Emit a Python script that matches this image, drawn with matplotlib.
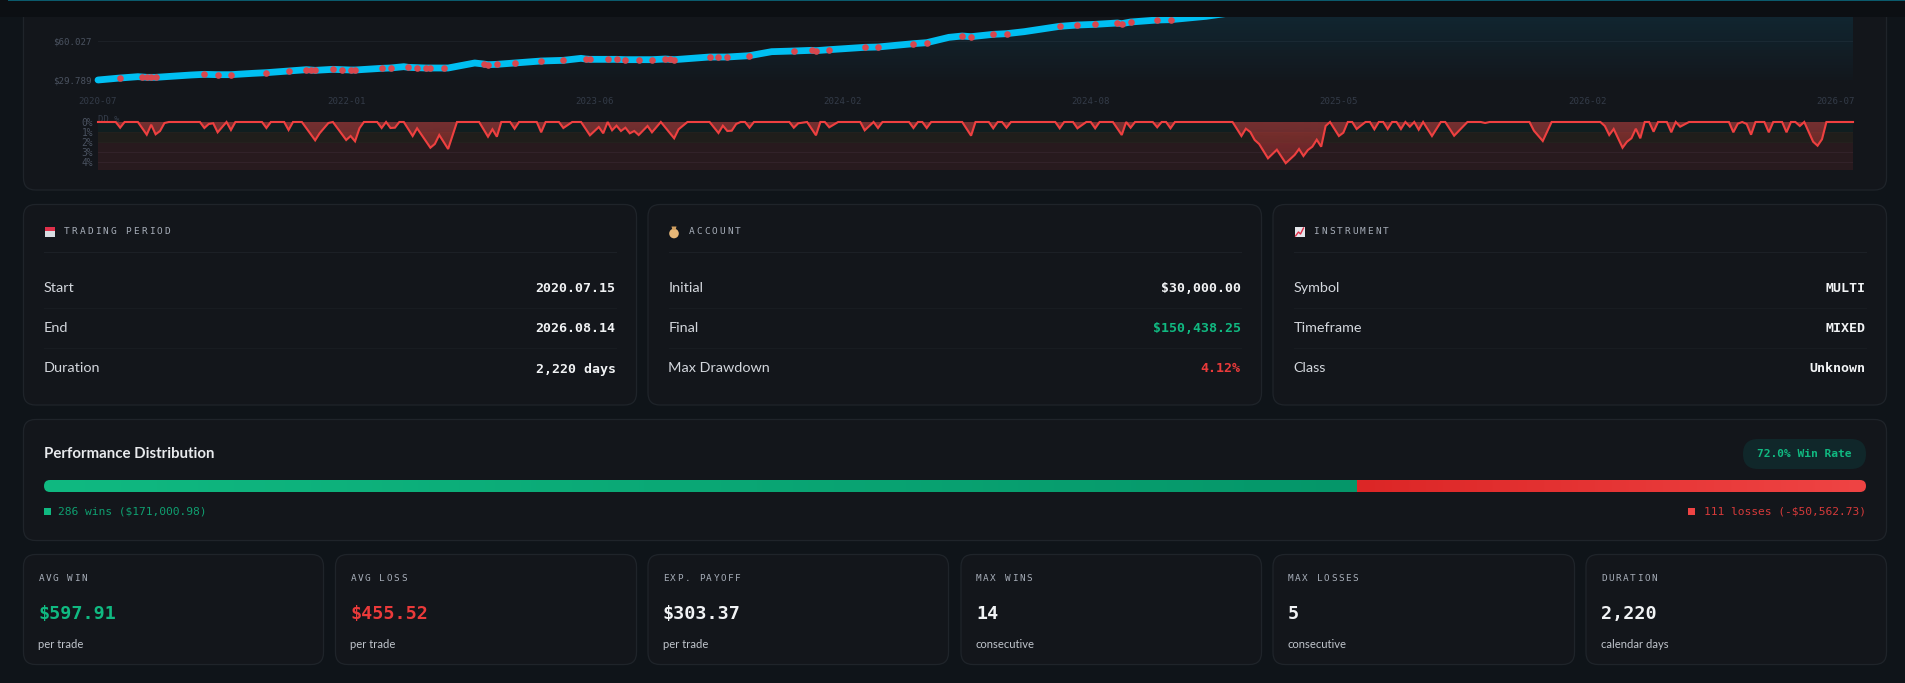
import matplotlib
matplotlib.use('Agg')
import matplotlib.pyplot as plt
import numpy as np
from matplotlib.colors import to_rgb
from matplotlib.patches import FancyBboxPatch, Rectangle, Circle, Polygon
from matplotlib.text import Text

# equity curve (trade index, balance)
equity_idx = [0, 5, 9, 10, 11, 12, 13, 21, 24, 27, 30, 35, 38, 43, 47, 48, 49, 53, 55, 57, 58, 64, 66, 69, 70,
              72, 74, 75, 78, 79, 85, 87, 88, 90, 94, 100, 105, 109, 110, 111, 115, 117, 119, 122, 125, 128, 129,
              130, 138, 140, 142, 147, 152, 157, 161, 162, 165, 173, 176, 184, 187, 192, 195, 197, 202, 205, 209,
              217, 221, 225, 230, 231, 233, 239, 242, 250, 396]
equity_val = [29789, 31340, 32373, 32115, 31856, 31856, 31856, 33665, 34182, 33923, 33923, 34957, 35474, 36766,
              37799, 37541, 37282, 38058, 37799, 37541, 37541, 38833, 39091, 40125, 39608, 39350, 39091, 39091,
              39091, 39091, 42967, 42192, 41675, 41934, 42967, 44518, 45034, 46585, 46068, 45809, 45809, 45809,
              45551, 45551, 45551, 46068, 45809, 45551, 47619, 47619, 47619, 48652, 51753, 52270, 52787, 52528,
              53304, 55112, 55371, 57955, 58730, 62865, 63899, 63382, 65190, 65707, 67258, 71393, 72426, 72943,
              73977, 73460, 74752, 76302, 76561, 79145, 150438]
loss_idx = [5, 10, 11, 12, 13, 24, 27, 30, 38, 43, 47, 48, 49, 53, 55, 57, 58, 64, 66, 70, 72, 74, 75, 78, 87, 88,
            90, 94, 100, 105, 110, 111, 115, 117, 119, 122, 125, 128, 129, 130, 138, 140, 142, 147, 157, 161, 162,
            165, 173, 176, 184, 187, 195, 197, 202, 205, 217, 221, 225, 230, 231, 233, 239, 242]

# drawdown (trade index, percent)
dd_idx = [0, 4, 5, 6, 9, 11, 12, 13, 14, 15, 16, 23, 24, 25, 26, 27, 29, 30, 31, 37, 38, 39, 42, 43, 44, 46, 49, 50,
          52, 53, 56, 57, 58, 59, 60, 63, 64, 65, 66, 67, 68, 69, 71, 72, 75, 76, 77, 79, 81, 86, 88, 89, 90, 91, 93,
          94, 95, 99, 100, 101, 104, 105, 107, 109, 111, 113, 114, 115, 116, 117, 118, 119, 120, 121, 122, 124, 125,
          127, 130, 131, 133, 138, 140, 141, 142, 143, 144, 145, 146, 147, 148, 156, 157, 158, 160, 162, 163, 164,
          165, 167, 172, 173, 175, 176, 177, 183, 184, 185, 186, 187, 188, 195, 197, 198, 201, 202, 203, 204, 205,
          206, 216, 217, 218, 220, 221, 223, 224, 225, 226, 229, 231, 232, 233, 234, 238, 239, 240, 241, 242, 243,
          256, 258, 259, 260, 261, 262, 264, 266, 268, 270, 271, 272, 273, 274, 275, 276, 277, 278, 280, 281, 282,
          283, 284, 286, 287, 288, 289, 290, 291, 292, 293, 294, 295, 296, 297, 298, 299, 301, 303, 304, 306, 309,
          312, 313, 314, 323, 324, 326, 328, 339, 340, 341, 342, 344, 345, 346, 347, 348, 349, 350, 351, 352, 354,
          355, 356, 357, 359, 368, 369, 370, 371, 372, 373, 374, 376, 377, 378, 380, 381, 382, 383, 384, 385, 387,
          388, 389, 390, 396]
dd_val = [0, 0, .57, 0, 0, 1.27, .27, 1.23, .9, .1, 0, 0, .6, .2, .13, 1.03, 0, .8, 0, 0, .6, 0, 0, .8, 0, 0, 1.83,
          1.13, .1, 0, 1.8, 1.4, 1.93, .63, 0, 0, .6, 0, .6, .57, 0, 0, 1.4, .63, 2.57, 2.2, 1.3, 2.7, 0, 0, 1.47,
          .73, 1.47, 0, 0, .67, 0, 0, 1.03, 0, 0, .6, 0, 0, 1.33, .5, 1.13, 0, .83, .37, .9, .57, 1.13, .9, 1.3, .4,
          1.03, 0, 1.63, .73, 0, 0, 1.1, .37, .9, .87, .2, 0, 0, .57, 0, 0, .57, .13, 0, 1.33, 0, 0, .53, 0, 0, .83,
          0, .6, 0, 0, .6, 0, 0, .6, 0, 0, 1.37, 0, 0, .63, 0, 0, .57, 0, 0, .63, 0, 0, .63, 0, 0, .63, 0, 0, 1.3, 0,
          .57, 0, 0, .53, 0, 0, .63, 0, 0, 1.4, .67, 1.0, 1.8, 2.2, 3.63, 2.77, 4.12, 3.3, 2.7, 3.4, 2.8, 2.47, 1.77,
          2.47, .4, 0, 1.4, 1.07, 0, 0, .7, 0, 0, .73, 0, 0, .7, 0, 0, .7, 0, .47, 0, .77, 0, 1.4, 0, 0, 1.37, 0, 0,
          .1, 0, 0, .87, 1.9, 0, 0, .4, 1.3, .7, 2.57, 1.97, 1.63, .67, 1.63, 0, 0, .97, 0, 0, 1.03, 0, .47, 0, 0,
          1.03, .17, 0, .2, 1.27, 0, 0, 1.03, 0, 0, 1.03, 0, 0, .4, 0, 1.97, 2.37, 1.73, 0, 0]

date_idx = [0, 56, 112, 168, 224, 280, 336, 392]
date_labels = ['2020-07', '2022-01', '2023-06', '2024-02', '2024-08', '2025-05', '2026-02', '2026-07']
equity_ticks = [29789, 60027]
equity_tick_labels = ['$29.789', '$60.027']
dd_ticks = [0, 1, 2, 3, 4]
dd_tick_labels = ['0%', '1%', '2%', '3%', '4%']

period_rows = [('Start', '2020.07.15'), ('End', '2026.08.14'), ('Duration', '2,220 days')]
account_rows = [('Initial', '$30,000.00'), ('Final', '$150,438.25'), ('Max Drawdown', '4.12%')]
instrument_rows = [('Symbol', 'MULTI'), ('Timeframe', 'MIXED'), ('Class', 'Unknown')]

wins = 286
losses = 111
stat_labels = ['AVG WIN', 'AVG LOSS', 'EXP. PAYOFF', 'MAX WINS', 'MAX LOSSES', 'DURATION']
stat_values = ['$597.91', '$455.52', '$303.37', '14', '5', '2,220']
stat_subs = ['per trade', 'per trade', 'per trade', 'consecutive', 'consecutive', 'calendar days']

PAGE = '#0f1419'
CARD = '#13161b'
BORDER = '#1f242a'
DIVIDER = '#1c2026'
GREEN = '#10b981'
RED = '#ef4444'
WHITE = '#f1f3f5'
MONO = 'DejaVu Sans Mono'
SANS = 'Lato'
W, H = 1905, 683


class SpacedText(Text):
    # matplotlib has no letter-spacing, so draw the string one glyph at a time
    def __init__(self, x, y, text, step, **kw):
        super().__init__(x, y, text, **kw)
        self.step = step

    def draw(self, renderer):
        full, x0 = self.get_text(), self.get_position()[0]
        for i, ch in enumerate(full):
            self.set_text(ch)
            self.set_x(x0 + i * self.step)
            super().draw(renderer)
        self.set_text(full)
        self.set_x(x0)


def px(size):
    return size * 0.72


def card(ax, x0, y0, x1, y1, r=12):
    ax.add_patch(FancyBboxPatch((x0, y0), x1 - x0, y1 - y0, boxstyle=f'round,pad=0,rounding_size={r}',
                                fc=CARD, ec=BORDER, lw=0.9))


def spaced(ax, x, y, text, step, size=9.5):
    ax.add_artist(SpacedText(x, y, text, step, color='#a6adb8', fontsize=px(size), family=MONO,
                             va='baseline', ha='left'))


def h_gradient(c0, c1):
    return np.linspace(to_rgb(c0), to_rgb(c1), 256)[None, :, :]


def v_alpha(color, a_top, a_bottom):
    rgba = np.ones((256, 1, 4))
    rgba[:, :, :3] = to_rgb(color)
    rgba[:, 0, 3] = np.linspace(a_top, a_bottom, 256)
    return rgba


def info_card(ax, x0, x1, title, rows, colors):
    card(ax, x0, 204.5, x1, 405)
    left, right = x0 + 20.5, x1 - 21
    spaced(ax, left + 20, 234.5, title, 7.7)
    ax.plot([left, right], [252.3, 252.3], color=DIVIDER, lw=0.8)
    for yy in (307.5, 347.5):
        ax.plot([left, right], [yy, yy], color='#191d22', lw=0.7)
    for (name, value), yy, c in zip(rows, (292.5, 332.5, 372.5), colors):
        ax.text(left, yy, name, color='#d3d7dd', fontsize=px(14.4), family=SANS, va='baseline')
        ax.text(right, yy, value, color=c, fontsize=px(13.3), family=MONO, weight='bold', va='baseline',
                ha='right')
    return left


plt.rcParams['font.family'] = ['DejaVu Sans']
fig = plt.figure(figsize=(W / 100, H / 100), dpi=100, facecolor=PAGE)

bg = fig.add_axes([0, 0, 1, 1], zorder=0)
bg.set_xlim(0, W)
bg.set_ylim(H, 0)
bg.axis('off')

# chart card, its top is scrolled away under the header
card(bg, 23.5, -60, 1886.5, 190)

# equity axes
P_L, P_R = 98, 1853
ax = fig.add_axes([P_L / W, 1 - 80 / H, (P_R - P_L) / W, 63 / H], zorder=1)
ax.set_facecolor('none')
for s in ax.spines.values():
    s.set_visible(False)
eq_top = 29789 + 63 * 775.3
poly = ax.fill_between(equity_idx, equity_val, 29789, color='none')
im = ax.imshow(v_alpha('#00bfff', 0.095, 0.012), extent=[0, 396, 29789, eq_top], aspect='auto', zorder=1)
im.set_clip_path(poly.get_paths()[0], transform=ax.transData)
ax.plot(equity_idx, equity_val, color='#00bff2', lw=px(6.8), solid_capstyle='round', solid_joinstyle='round',
        clip_on=False, zorder=3)
loss_equity = [equity_val[equity_idx.index(i)] for i in loss_idx]
ax.scatter(loss_idx, loss_equity, s=px(6.6) ** 2, color='#d9474e', linewidths=0, clip_on=False, zorder=4)
ax.set_xlim(0, 396)
ax.set_ylim(29789, eq_top)
ax.set_xticks(date_idx, date_labels)
ax.set_yticks(equity_ticks, equity_tick_labels)
ax.grid(axis='y', color='#1c2026', lw=0.8, zorder=0)
ax.set_axisbelow(True)
ax.tick_params(axis='x', length=0, pad=12, labelsize=px(9.2), labelcolor='#333b48')
ax.tick_params(axis='y', length=0, pad=4.3, labelsize=px(9.2), labelcolor='#4a5260')
for t in ax.get_xticklabels() + ax.get_yticklabels():
    t.set_family(MONO)

# drawdown axes
dd = fig.add_axes([P_L / W, 1 - 170 / H, (P_R - P_L) / W, 48 / H], zorder=1)
dd.set_facecolor('none')
for s in dd.spines.values():
    s.set_visible(False)
dd.axhspan(0, 1, color='#101e20', lw=0, zorder=0)
dd.axhspan(1, 2, color='#201e1b', lw=0, zorder=0)
dd.axhspan(2, 4.8, color='#281a1e', lw=0, zorder=0)
for lvl in dd_ticks[1:]:
    dd.axhline(lvl, color='#33232a' if lvl > 2 else '#24221f', lw=0.7, zorder=0.5)
poly = dd.fill_between(dd_idx, dd_val, 0, color='none')
im = dd.imshow(v_alpha(RED, 0.46, 0.26), extent=[0, 396, 4.8, 0], aspect='auto', zorder=1)
im.set_clip_path(poly.get_paths()[0], transform=dd.transData)
dd.plot(dd_idx, dd_val, color='#ee4040', lw=px(2.1), clip_on=False, zorder=3, solid_joinstyle='miter')
dd.set_xlim(0, 396)
dd.set_ylim(4.8, 0)
dd.set_xticks([])
dd.set_yticks(dd_ticks, dd_tick_labels)
dd.tick_params(axis='y', length=0, pad=3.6, labelsize=px(9.6), labelcolor='#4a5260')
for t in dd.get_yticklabels():
    t.set_family(MONO)
bg.text(98, 119.5, 'DD %', color='#333b48', fontsize=px(9), family=MONO, va='center')

# info cards
l1 = info_card(bg, 23.5, 636.5, 'TRADING PERIOD', period_rows, [WHITE] * 3)
l2 = info_card(bg, 648, 1261.5, 'ACCOUNT', account_rows, [WHITE, GREEN, '#ea3a3a'])
l3 = info_card(bg, 1273, 1886.5, 'INSTRUMENT', instrument_rows, [WHITE] * 3)

# small icons standing in for the emoji
bg.add_patch(Rectangle((l1 + 1, 227), 10, 10, fc='#d8dde2', ec='none'))
bg.add_patch(Rectangle((l1 + 1, 227), 10, 4, fc='#e0304a', ec='none'))
bg.add_patch(Circle((l2 + 5.5, 233.5), 4.8, fc='#e8b878', ec='none'))
bg.add_patch(Polygon([(l2 + 3, 226.5), (l2 + 8, 226.5), (l2 + 7, 230), (l2 + 4, 230)], fc='#d2a060', ec='none'))
bg.add_patch(Rectangle((l3 + 1, 227), 10, 10, fc='#e4e6ea', ec='none'))
bg.plot([l3 + 2, l3 + 5, l3 + 7, l3 + 10], [236, 232, 234, 228], color='#e0304a', lw=1.0)

# performance distribution card
card(bg, 23.5, 419.5, 1886.5, 540.5)
bg.text(44, 458, 'Performance Distribution', color='#e8eaed', fontsize=px(15), family=SANS, weight='bold',
        va='baseline')
bar_l, bar_r, bar_t, bar_b = 44, 1866, 480, 492
bar_split = bar_l + (bar_r - bar_l) * wins / (wins + losses)
clip = FancyBboxPatch((bar_l, bar_t), bar_r - bar_l, bar_b - bar_t, boxstyle='round,pad=0,rounding_size=6',
                      fc='none', ec='none', transform=bg.transData)
bg.add_patch(clip)
for grad, x0, x1 in ((h_gradient('#10b981', '#059669'), bar_l, bar_split),
                     (h_gradient('#dc2626', RED), bar_split, bar_r)):
    seg = bg.imshow(grad, extent=[x0, x1, bar_b, bar_t], aspect='auto', zorder=2)
    seg.set_clip_path(clip)
bg.set_xlim(0, W)
bg.set_ylim(H, 0)

bg.add_patch(Rectangle((44, 508), 7, 7, fc=GREEN, ec='none'))
bg.text(58, 511, f'{wins} wins ($171,000.98)', color='#0f9f70', fontsize=px(11.3), family=MONO, va='center')
bg.add_patch(Rectangle((1687.5, 508), 7, 7, fc=RED, ec='none'))
bg.text(1866, 511, f'{losses} losses (-$50,562.73)', color='#d63a3a', fontsize=px(11.3), family=MONO, va='center',
        ha='right')
bg.add_patch(FancyBboxPatch((1743, 439), 123, 30, boxstyle='round,pad=0,rounding_size=15', fc='#10272a', ec='none'))
bg.text(1804.5, 454, '72.0% Win Rate', color=GREEN, fontsize=px(11.3), family=MONO, weight='bold', va='center',
        ha='center')

# stat cards
stat_spans = [(23.5, 323.5), (335.5, 636.5), (648, 948.5), (961, 1261.5), (1273, 1574.5), (1586, 1886.5)]
stat_colors = [GREEN, '#ea3a3a', WHITE, WHITE, WHITE, WHITE]
for (x0, x1), lab, val, sub, c in zip(stat_spans, stat_labels, stat_values, stat_subs, stat_colors):
    card(bg, x0, 554.5, x1, 664.5)
    spaced(bg, x0 + 15, 581, lab, 7.2, size=9.4)
    bg.text(x0 + 15, 614, val, color=c, fontsize=px(18.4), family=MONO, weight='bold', va='center')
    bg.text(x0 + 15, 648, sub, color='#c0c5cc', fontsize=px(11.3), family=SANS, va='baseline')

# sticky header over the chart's top
top = fig.add_axes([0, 0, 1, 1], zorder=5)
top.set_xlim(0, W)
top.set_ylim(H, 0)
top.axis('off')
top.add_patch(Rectangle((0, 0), W, 17, fc='#0c0f13', ec='none'))
top.add_patch(Rectangle((8, 0), W - 8, 1.2, fc='#0b5a6c', ec='none'))

fig.savefig('out.png', dpi=100, facecolor=PAGE)
